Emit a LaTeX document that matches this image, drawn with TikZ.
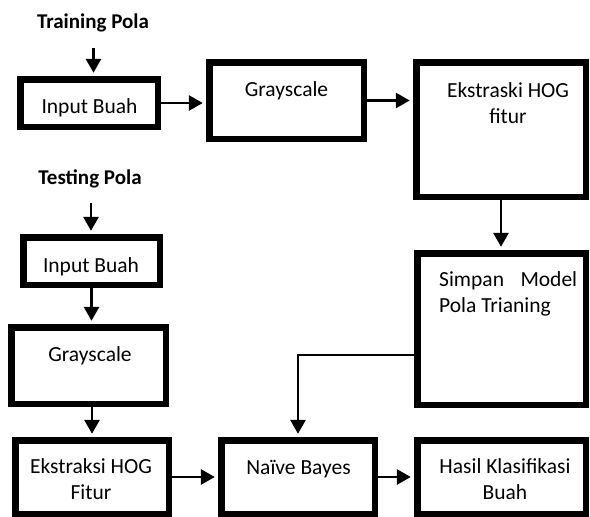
\documentclass[tikz,border=0pt]{standalone}
\usepackage{fontspec}
\setmainfont{Carlito}
\usetikzlibrary{arrows.meta}
\begin{document}
\begin{tikzpicture}[x=1pt,y=-1pt,
  box/.style={draw, line width=6.5pt, inner sep=0pt},
  txt/.style={anchor=base, inner sep=0pt, align=center, font=\fontsize{21.5pt}{25.5pt}\selectfont},
  ttl/.style={anchor=base, inner sep=0pt, font=\fontsize{21pt}{25pt}\selectfont\bfseries},
  arr/.style={line width=2.8pt, -{Triangle[length=14pt,width=15pt]}, shorten >=3.2pt}]
\useasboundingbox (0,0) rectangle (590,517);
% boxes
\node[box, minimum width=137.5pt, minimum height=47.5pt] (in1) at (89,103) {};
\node[box, minimum width=154.5pt, minimum height=76.5pt] (gray1) at (286.5,100.5) {};
\node[box, minimum width=169.5pt, minimum height=134.5pt] (hog1) at (501,129.5) {};
\node[box, minimum width=168.5pt, minimum height=151.5pt] (simpan) at (501.5,329) {};
\node[box, minimum width=136.5pt, minimum height=47.5pt] (in2) at (91.5,261) {};
\node[box, minimum width=154.5pt, minimum height=76.5pt] (gray2) at (88.5,365.5) {};
\node[box, minimum width=153.5pt, minimum height=73.5pt] (hog2) at (92,477) {};
\node[box, minimum width=153.5pt, minimum height=73.5pt] (naive) at (298,477) {};
\node[box, minimum width=168.5pt, minimum height=73.5pt] (hasil) at (501.5,477) {};
% texts
\node[ttl] (train) at (93,28) {Training Pola};
\node[ttl] (test) at (90,184) {Testing Pola};
\node[txt] (in1t) at (89.5,113) {Input Buah};
\node[txt] (gray1t) at (286.5,96) {Grayscale};
\node[txt] (hog1t) at (508,123) {Ekstraski HOG\\fitur};
\node[txt, anchor=base west, align=left] (simpant) at (439,312) {\makebox[138pt][l]{Simpan\hfill Model}\\Pola Trianing};
\node[txt] (in2t) at (91,272) {Input Buah};
\node[txt] (gray2t) at (90,361) {Grayscale};
\node[txt] (hog2t) at (91,499) {Ekstraksi HOG\\Fitur};
\node[txt] (naivet) at (298.5,474) {Naïve Bayes};
\node[txt] (hasilt) at (505,499) {Hasil Klasifikasi\\Buah};
% connectors
\coordinate (s1) at (93.5,48);
\coordinate (s2) at (91,203);
\draw[arr] (s1) -- (s1 |- in1.north);
\draw[arr] (in1.east) -- (in1.east -| gray1.west);
\draw[arr] (gray1.east) -- (gray1.east -| hog1.west);
\draw[arr] (hog1.south) -- (hog1.south |- simpan.north);
\draw[arr] (s2) -- (s2 |- in2.north);
\draw[arr] (in2.south) -- (in2.south |- gray2.north);
\draw[arr] (gray2.south -| hog2.north) -- (hog2.north);
\draw[arr] (hog2.east) -- (naive.west);
\draw[arr] (naive.east) -- (hasil.west);
\draw[arr] ([yshift=-26pt]simpan.west) -| (naive.north);
\end{tikzpicture}
\end{document}
